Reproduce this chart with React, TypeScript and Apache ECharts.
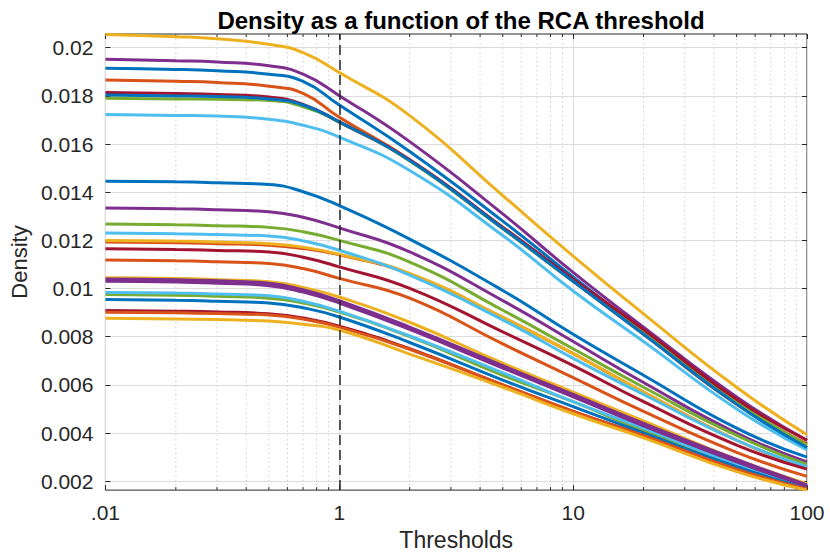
import React, { useEffect, useRef } from "react";
import * as echarts from "echarts";

// ---------- data ----------
const thresholds = [0.1, 0.2, 0.3, 0.5, 0.7, 1, 2, 5, 10, 20, 50, 100];

// top cluster
const topYellow = [0.02055, 0.02046, 0.02037, 0.02014, 0.0198, 0.01897, 0.01718, 0.01386, 0.01135, 0.00895, 0.0059, 0.00393];
const topPurple = [0.01952, 0.01946, 0.01941, 0.01925, 0.0189, 0.01801, 0.0161, 0.0131, 0.01067, 0.0084, 0.0055, 0.0037];
const topBlue = [0.01915, 0.0191, 0.01904, 0.0189, 0.0186, 0.01762, 0.01569, 0.0128, 0.01048, 0.0082, 0.0052, 0.0034];
const topOrange = [0.01866, 0.01861, 0.01856, 0.0184, 0.0181, 0.01711, 0.01535, 0.0125, 0.0103, 0.0081, 0.0052, 0.00355];
const topDarkRed = [0.01814, 0.0181, 0.01806, 0.01795, 0.01765, 0.01692, 0.01535, 0.01255, 0.0104, 0.0083, 0.0054, 0.0037];
const topBlue2 = [0.01804, 0.018, 0.01797, 0.01787, 0.01762, 0.01692, 0.01532, 0.0125, 0.0103, 0.0081, 0.0052, 0.0034];
const topGreen = [0.0179, 0.01787, 0.01786, 0.01781, 0.01755, 0.0169, 0.0153, 0.01248, 0.0103, 0.0082, 0.0053, 0.0035];
const topLightBlue = [0.01723, 0.01719, 0.01716, 0.01703, 0.01678, 0.01629, 0.0149, 0.0122, 0.0099, 0.0078, 0.005, 0.0033];

// middle group
const midBlue = [0.01446, 0.01443, 0.01439, 0.01432, 0.01402, 0.01344, 0.01205, 0.00992, 0.0081, 0.0064, 0.0042, 0.003];
const midPurple = [0.01334, 0.01331, 0.01327, 0.01319, 0.01296, 0.01252, 0.01152, 0.0095, 0.0078, 0.0061, 0.004, 0.0028];
const midGreen = [0.01268, 0.01265, 0.01261, 0.01254, 0.01236, 0.012, 0.0111, 0.0091, 0.0075, 0.0059, 0.0039, 0.0027];
const midLightBlue = [0.01231, 0.01228, 0.01224, 0.01218, 0.01198, 0.01159, 0.01056, 0.0087, 0.0071, 0.0056, 0.0037, 0.0026];
const midYellow = [0.012, 0.01197, 0.01193, 0.01186, 0.01172, 0.01142, 0.01063, 0.0088, 0.0073, 0.0057, 0.0037, 0.0026];
const midOrange = [0.01193, 0.0119, 0.01186, 0.0118, 0.01166, 0.0114, 0.0106, 0.0088, 0.0073, 0.0057, 0.0037, 0.00255];
const midDarkRed = [0.01165, 0.01162, 0.01158, 0.01152, 0.0113, 0.0109, 0.01001, 0.0082, 0.0068, 0.0053, 0.0035, 0.0025];
const midOrange2 = [0.01118, 0.01115, 0.01111, 0.01104, 0.01083, 0.01042, 0.0096, 0.0077, 0.0063, 0.0049, 0.0032, 0.0022];

// lower group
const lowYellow = [0.01045, 0.01042, 0.01037, 0.01028, 0.01004, 0.00965, 0.0086, 0.0069, 0.0057, 0.0045, 0.0029, 0.0019];
const lowPurple = [0.0104, 0.01037, 0.01032, 0.01022, 0.00995, 0.0095, 0.0084, 0.0068, 0.0056, 0.0044, 0.0029, 0.00185];
const lowPurple2 = [0.0103, 0.01027, 0.01022, 0.01012, 0.00985, 0.0094, 0.0083, 0.0067, 0.0055, 0.0043, 0.0028, 0.0018];
const lowLightBlue = [0.00984, 0.00981, 0.00977, 0.0097, 0.00947, 0.00906, 0.00803, 0.0065, 0.0053, 0.0042, 0.0027, 0.0018];
const lowGreen = [0.00975, 0.00972, 0.00968, 0.0096, 0.0094, 0.00902, 0.008, 0.0064, 0.0053, 0.0041, 0.0027, 0.00175];
const lowBlue = [0.00954, 0.00951, 0.00947, 0.0094, 0.0092, 0.00882, 0.00776, 0.0062, 0.0051, 0.004, 0.0026, 0.0017];
const lowDarkRed = [0.00909, 0.00906, 0.00903, 0.00895, 0.00878, 0.00844, 0.0075, 0.006, 0.0049, 0.0039, 0.0025, 0.00168];
const lowOrange = [0.00902, 0.00899, 0.00896, 0.0089, 0.00873, 0.0084, 0.00748, 0.006, 0.0049, 0.0039, 0.0025, 0.00168];
const lowYellow2 = [0.00877, 0.00874, 0.00871, 0.00865, 0.00852, 0.00828, 0.00728, 0.0059, 0.0048, 0.0038, 0.0024, 0.00163];

const yTickValues = [0.002, 0.004, 0.006, 0.008, 0.01, 0.012, 0.014, 0.016, 0.018, 0.02];
const xTickValues = [0.1, 1, 10, 100];
const xTickLabels = [".01", "1", "10", "100"];
const xMinorValues = [0.2, 0.3, 0.4, 0.5, 0.6, 0.7, 0.8, 0.9, 2, 3, 4, 5, 6, 7, 8, 9, 20, 30, 40, 50, 60, 70, 80, 90];
const referenceThreshold = 1;

const C = {
  blue: "#0072BD",
  orange: "#D95319",
  yellow: "#EDB120",
  purple: "#7E2F8E",
  green: "#77AC30",
  lightBlue: "#4DBEEE",
  darkRed: "#A2142F",
};

const curves = [
  { values: topBlue, color: C.blue },
  { values: topOrange, color: C.orange },
  { values: topYellow, color: C.yellow },
  { values: topPurple, color: C.purple },
  { values: topGreen, color: C.green },
  { values: topLightBlue, color: C.lightBlue },
  { values: topDarkRed, color: C.darkRed },
  { values: topBlue2, color: C.blue },
  { values: midOrange, color: C.orange },
  { values: midYellow, color: C.yellow },
  { values: midPurple, color: C.purple },
  { values: midGreen, color: C.green },
  { values: midLightBlue, color: C.lightBlue },
  { values: midDarkRed, color: C.darkRed },
  { values: midBlue, color: C.blue },
  { values: midOrange2, color: C.orange },
  { values: lowYellow, color: C.yellow },
  { values: lowPurple, color: C.purple },
  { values: lowGreen, color: C.green },
  { values: lowLightBlue, color: C.lightBlue },
  { values: lowDarkRed, color: C.darkRed },
  { values: lowBlue, color: C.blue },
  { values: lowOrange, color: C.orange },
  { values: lowYellow2, color: C.yellow },
  { values: lowPurple2, color: C.purple },
];

const X_MIN = 0.1;
const X_MAX = 100;
const Y_MIN = 0.00163;
const Y_MAX = 0.02057;

const FONT = '"Liberation Sans", Arial, Helvetica, sans-serif';
const TEXT = "#262626";

export default function App() {
  const ref = useRef<HTMLDivElement>(null);

  useEffect(() => {
    if (!ref.current) return;
    const chart = echarts.init(ref.current, undefined, { renderer: "svg" });

    const lineSeries = curves.map((c, i) => ({
      type: "line",
      name: "Curve " + (i + 1),
      data: thresholds.map((x, k) => [x, c.values[k]]),
      showSymbol: false,
      symbol: "none",
      smooth: 0.5,
      silent: true,
      z: 3,
      lineStyle: { width: 3, color: c.color },
      itemStyle: { color: c.color },
    }));

    const option: any = {
      animation: false,
      backgroundColor: "#ffffff",
      textStyle: { fontFamily: FONT },
      title: {
        text: "Density as a function of the RCA threshold",
        left: 456,
        top: 3,
        textAlign: "center",
        textStyle: { fontFamily: FONT, fontSize: 24, fontWeight: "bold", color: "#000000" },
      },
      grid: {
        left: 105,
        right: 23,
        top: 34,
        bottom: 60,
        show: true,
        borderColor: TEXT,
        borderWidth: 1,
        backgroundColor: "#ffffff",
      },
      xAxis: [
        {
          type: "log",
          logBase: 10,
          min: X_MIN,
          max: X_MAX,
          position: "bottom",
          name: "Thresholds",
          nameLocation: "middle",
          nameGap: 35,
          nameTextStyle: { fontFamily: FONT, fontSize: 23, color: TEXT },
          axisLine: { show: false },
          axisTick: { show: true, inside: true, length: 5, lineStyle: { color: TEXT } },
          axisLabel: {
            show: true,
            margin: 12,
            fontFamily: FONT,
            fontSize: 21,
            color: TEXT,
            showMinLabel: true,
            showMaxLabel: true,
            formatter: (v: number) => {
              let best = 0;
              for (let i = 1; i < xTickValues.length; i++) {
                if (Math.abs(Math.log10(v) - Math.log10(xTickValues[i])) < Math.abs(Math.log10(v) - Math.log10(xTickValues[best]))) best = i;
              }
              return xTickLabels[best];
            },
          },
          splitLine: { show: true, lineStyle: { color: "#dcdcdc", width: 1 } },
        },
        {
          type: "log",
          logBase: 10,
          min: X_MIN,
          max: X_MAX,
          position: "top",
          axisLine: { show: false },
          axisTick: { show: true, inside: true, length: 5, lineStyle: { color: TEXT } },
          axisLabel: { show: false },
          splitLine: { show: false },
        },
      ],
      yAxis: [
        {
          type: "value",
          min: Y_MIN,
          max: Y_MAX,
          position: "left",
          name: "Density",
          nameLocation: "middle",
          nameGap: 74,
          nameTextStyle: { fontFamily: FONT, fontSize: 22, color: TEXT },
          axisLine: { show: false },
          axisTick: { show: true, inside: true, length: 5, customValues: yTickValues, lineStyle: { color: TEXT } },
          axisLabel: {
            show: true,
            margin: 12,
            fontFamily: FONT,
            fontSize: 21,
            color: TEXT,
            customValues: yTickValues,
            formatter: (v: number) => String(parseFloat(Number(v).toFixed(4))),
          },
          splitLine: { show: true, lineStyle: { color: "#dcdcdc", width: 1 } },
        },
        {
          type: "value",
          min: Y_MIN,
          max: Y_MAX,
          position: "right",
          axisLine: { show: false },
          axisTick: { show: true, inside: true, length: 5, customValues: yTickValues, lineStyle: { color: TEXT } },
          axisLabel: { show: false },
          splitLine: { show: false },
        },
      ],
      series: [
        {
          type: "custom",
          silent: true,
          z: 1,
          xAxisIndex: 0,
          yAxisIndex: 0,
          data: xMinorValues.map((v) => [v, Y_MIN]),
          encode: { x: 0, y: 1 },
          renderItem: (_params: any, api: any) => {
            const x = api.value(0);
            const b = api.coord([x, Y_MIN]);
            const t = api.coord([x, Y_MAX]);
            return {
              type: "group",
              children: [
                {
                  type: "line",
                  shape: { x1: b[0], y1: b[1], x2: t[0], y2: t[1] },
                  style: { stroke: "#cfcfcf", lineWidth: 1, lineDash: [1.5, 3] },
                },
                {
                  type: "line",
                  shape: { x1: b[0], y1: b[1], x2: b[0], y2: b[1] - 3 },
                  style: { stroke: TEXT, lineWidth: 1 },
                },
                {
                  type: "line",
                  shape: { x1: t[0], y1: t[1], x2: t[0], y2: t[1] + 3 },
                  style: { stroke: TEXT, lineWidth: 1 },
                },
              ],
            };
          },
        },
        ...lineSeries,
        {
          type: "line",
          data: [],
          silent: true,
          z: 5,
          markLine: {
            silent: true,
            symbol: ["none", "none"],
            label: { show: false },
            lineStyle: { color: "#262626", width: 1.5, type: [10, 5] },
            data: [{ xAxis: referenceThreshold }],
          },
        },
      ],
    };

    chart.setOption(option);
    return () => {
      chart.dispose();
    };
  }, []);

  return (
    <div
      ref={ref}
      style={{ position: "fixed", left: 0, top: 0, width: 830, height: 556, background: "#fff" }}
    />
  );
}
